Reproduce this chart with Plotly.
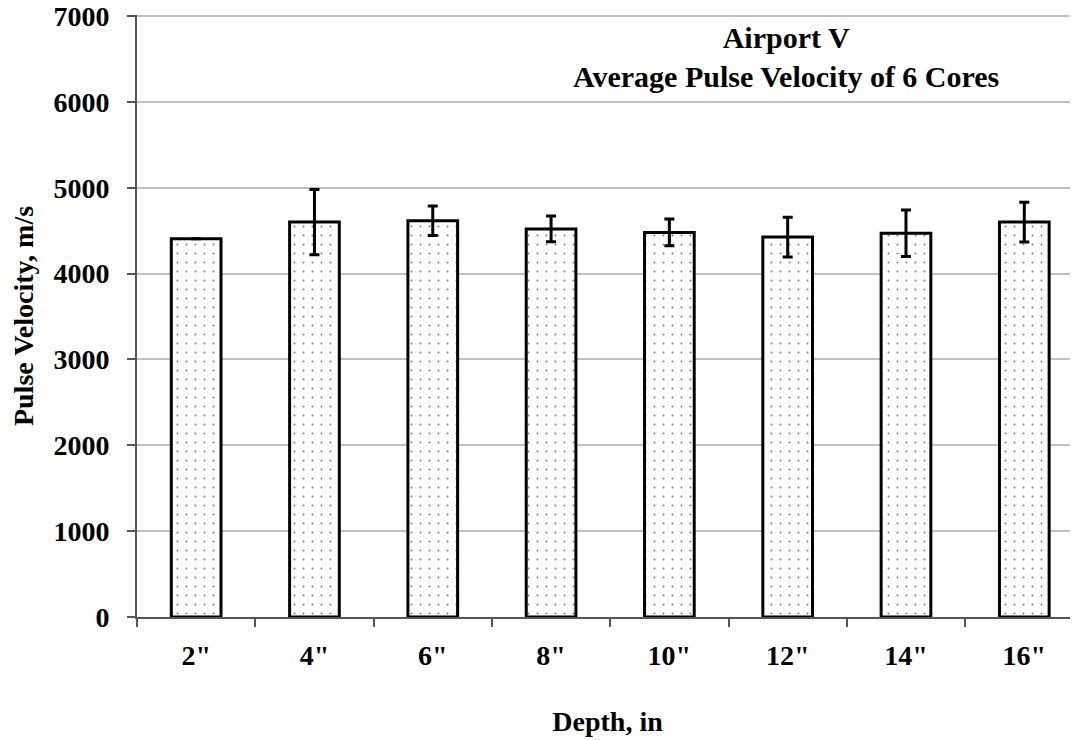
import plotly.graph_objects as go

categories = ['2"', '4"', '6"', '8"', '10"', '12"', '14"', '16"']
velocity = [4405, 4600, 4615, 4520, 4480, 4425, 4470, 4600]
error = [0, 380, 172, 150, 155, 232, 270, 232]
title_lines = ["Airport V", "Average Pulse Velocity of 6 Cores"]

FONT = "Liberation Serif"
FS = 28

fig = go.Figure()
fig.add_trace(go.Bar(
    x=categories, y=velocity,
    width=0.42,
    marker=dict(color="white",
                line=dict(color="black", width=3),
                pattern=dict(shape=".", size=9, solidity=0.04, fgcolor="black", bgcolor="white")),
    error_y=dict(type="data", array=error, visible=True, color="black", thickness=3, width=5),
    showlegend=False,
))

fig.update_layout(
    width=1070, height=732,
    margin=dict(l=129, r=0, t=7, b=123, autoexpand=False),
    paper_bgcolor="white", plot_bgcolor="white",
    font=dict(family=FONT, color="black", size=FS),
    annotations=[dict(text="<b>" + "<br>".join(title_lines) + "</b>",
                      x=0.6895, y=0.993, xref="paper", yref="paper",
                      xanchor="center", yanchor="top", showarrow=False,
                      font=dict(family=FONT, size=30, color="black"))],
)
fig.update_xaxes(
    range=[-0.5, 7.454], automargin=False,
    showline=True, linecolor="#555555", linewidth=2,
    ticks="outside", tickson="boundaries", ticklen=8, tickcolor="#555555", tickwidth=2,
    tickfont=dict(family=FONT, size=FS, color="black"),
    tickprefix="<b>", ticksuffix="</b>",
    ticklabelstandoff=12,
    title=dict(text="<b>Depth, in</b>", font=dict(family=FONT, size=FS), standoff=42),
    showgrid=False,
)
fig.update_yaxes(
    range=[0, 7012], dtick=1000, automargin=False,
    showline=True, linecolor="#555555", linewidth=2,
    ticks="outside", ticklen=8, tickcolor="#555555", tickwidth=2,
    showgrid=True, gridcolor="#c0c0c0", gridwidth=2,
    tickfont=dict(family=FONT, size=FS, color="black"),
    tickprefix="<b>", ticksuffix="</b>",
    ticklabelstandoff=12, ticklabeloverflow="allow",
    title=dict(text="<b>Pulse Velocity, m/s</b>", font=dict(family=FONT, size=FS), standoff=22),
    zeroline=False,
)

fig.write_html("out.html")
